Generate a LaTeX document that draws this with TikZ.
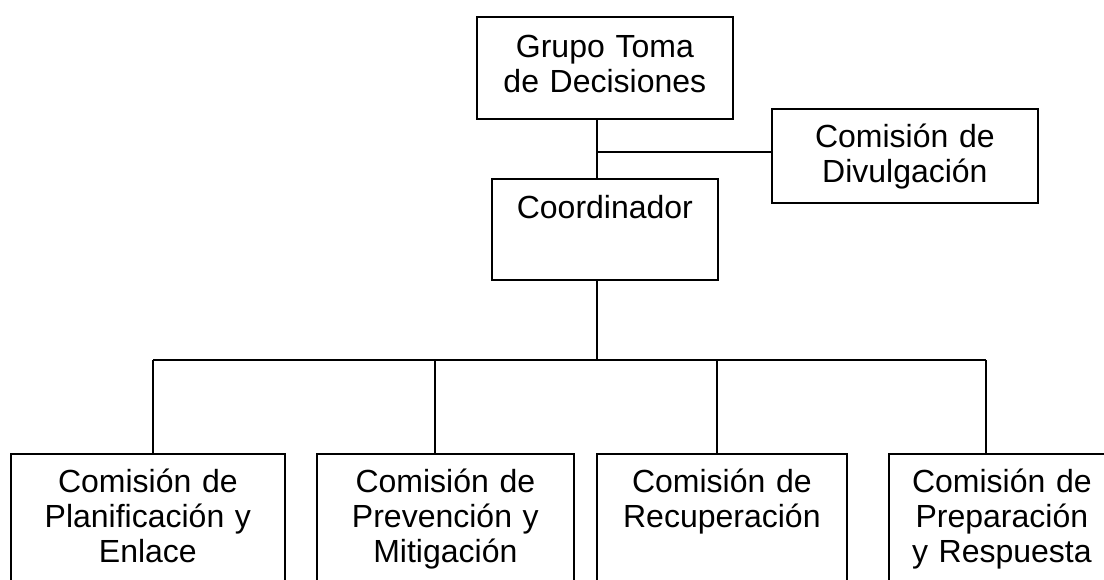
\documentclass[tikz,border=0pt]{standalone}
\usepackage{fontspec}
\setmainfont{Liberation Sans}
\usepackage{tikz}

\tikzset{
 caja/.style={draw, line width=1.3pt, anchor=north west, inner sep=0pt,
  align=center, font=\fontsize{24}{26.25}\selectfont},
 linea/.style={line width=1.3pt}
}

\begin{document}
\begin{tikzpicture}[x=0.75pt,y=-0.75pt]
 \useasboundingbox (0,0) rectangle (1104,580);
 \clip (0,0) rectangle (1104,580);
%
 \node[caja, text width=192pt, text height=30.75pt, text depth=45.75pt] (grupo) at (476,16) {Grupo Toma\\de Decisiones};
 \node[caja, text width=199.5pt, text height=29.25pt, text depth=41.25pt] (divul) at (771,108) {Comisión de\\Divulgación};
 \node[caja, text width=169.5pt, text height=30pt, text depth=45.75pt] (coord) at (491,178) {Coordinador};
%
 \node[caja, text width=205.5pt, text height=29.25pt, text depth=102.75pt] (plan) at (10,453) {Comisión de\\Planificación y\\Enlace};
 \node[caja, text width=192.75pt, text height=29.25pt, text depth=102.75pt] (prev) at (316,453) {Comisión de\\Prevención y\\Mitigación};
 \node[caja, text width=187.5pt, text height=29.25pt, text depth=102.75pt] (recu) at (596,453) {Comisión de\\Recuperación};
 \node[caja, text width=169.5pt, text height=29.25pt, text depth=102.75pt] (prep) at (888,453) {Comisión de\\Preparación\\y Respuesta};
%
 \coordinate (eje) at (597,152);
 \coordinate (bus) at (597,360);
 \draw[linea] (grupo.south -| eje) -- (coord.north -| eje);
 \draw[linea] (eje) -- (eje -| divul.west);
 \draw[linea] (coord.south -| bus) -- (bus);
%
 \coordinate (b1) at (153,360);
 \coordinate (b2) at (435,360);
 \coordinate (b3) at (717,360);
 \coordinate (b4) at (986,360);
 \draw[linea] (b1) -- (b4);
 \draw[linea] (b1) -- (b1 |- plan.north);
 \draw[linea] (b2) -- (b2 |- prev.north);
 \draw[linea] (b3) -- (b3 |- recu.north);
 \draw[linea] (b4) -- (b4 |- prep.north);
\end{tikzpicture}
\end{document}
